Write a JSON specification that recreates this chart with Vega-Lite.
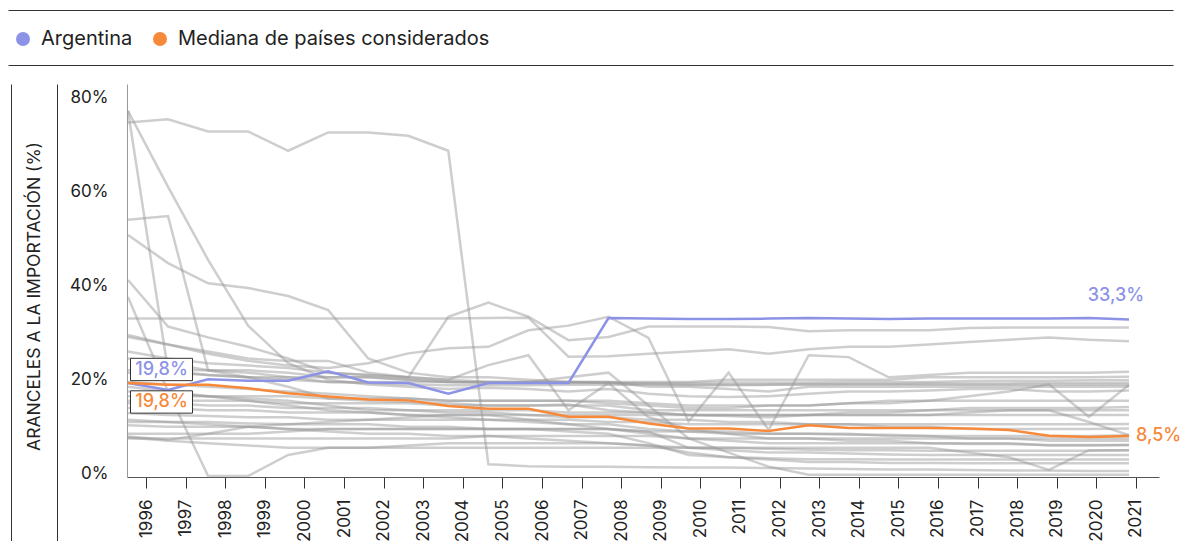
{
"$schema": "https://vega.github.io/schema/vega-lite/v6.json",
"autosize": "none",
"width": 1032,
"height": 393,
"padding": {"left": 127, "top": 84, "right": 29, "bottom": 64},
"background": "white",
"config": {
  "view": {"stroke": null},
  "font": "Inter",
  "locale": {"number": {"decimal": ",", "thousands": ".", "grouping": [3], "currency": ["", "%"]}},
  "axis": {"labelFont": "Inter", "labelFontSize": 17, "labelColor": "#222", "titleFont": "Inter", "titleFontSize": 17.5, "titleFontWeight": "normal", "titleColor": "#222", "grid": false}
},
"datasets": {"t": [
{"yr":1996,"Argentina":19.8,"Mediana":19.8,"p1":75.2,"p2":77.7,"p3":77.7,"p4":54.5,"p5":51.3,"p6":41.7,"p7":38.1,"p8":33.5,"p9":30.0,"p10":29.6,"p11":25.0,"p12":22.5,"p13":16.0,"p14":13.4,"p15":12.0,"p16":10.8,"p17":8.4,"p18":8.0,"p19":19.0,"p20":20.0,"p21":18.0,"p22":14.5,"p23":11.5,"p24":9.0,"p25":26.5,"p26":17.0,"p27":15.5,"p28":8.2,"p29":22.0},
{"yr":1997,"Argentina":18.3,"Mediana":19.4,"p1":75.9,"p2":61.5,"p3":22.4,"p4":55.3,"p5":45.3,"p6":31.8,"p7":18.0,"p8":33.5,"p9":28.0,"p10":28.0,"p11":24.0,"p12":22.5,"p13":16.0,"p14":13.0,"p15":11.5,"p16":10.5,"p17":7.7,"p18":8.0,"p19":18.0,"p20":19.5,"p21":17.5,"p22":14.5,"p23":11.5,"p24":9.0,"p25":25.0,"p26":17.0,"p27":15.5,"p28":7.5,"p29":22.0},
{"yr":1998,"Argentina":20.6,"Mediana":19.4,"p1":73.3,"p2":46.0,"p3":21.5,"p4":22.5,"p5":41.0,"p6":29.5,"p7":0.0,"p8":33.5,"p9":26.5,"p10":26.0,"p11":22.5,"p12":22.5,"p13":16.0,"p14":12.8,"p15":11.5,"p16":10.5,"p17":9.0,"p18":8.0,"p19":17.0,"p20":19.0,"p21":17.0,"p22":14.0,"p23":11.0,"p24":9.0,"p25":24.0,"p26":17.0,"p27":15.0,"p28":7.0,"p29":21.5},
{"yr":1999,"Argentina":20.3,"Mediana":18.7,"p1":73.3,"p2":32.0,"p3":21.0,"p4":21.0,"p5":40.0,"p6":27.5,"p7":0.0,"p8":33.5,"p9":25.0,"p10":24.5,"p11":22.0,"p12":22.5,"p13":16.0,"p14":12.5,"p15":11.2,"p16":10.5,"p17":10.5,"p18":8.0,"p19":16.0,"p20":18.5,"p21":16.5,"p22":14.0,"p23":10.5,"p24":9.0,"p25":23.5,"p26":17.0,"p27":15.0,"p28":6.5,"p29":21.0},
{"yr":2000,"Argentina":20.3,"Mediana":17.6,"p1":69.2,"p2":24.0,"p3":20.5,"p4":19.0,"p5":38.3,"p6":25.0,"p7":4.5,"p8":33.5,"p9":24.5,"p10":23.5,"p11":21.0,"p12":22.0,"p13":15.5,"p14":12.5,"p15":11.0,"p16":10.0,"p17":11.0,"p18":8.0,"p19":15.0,"p20":18.0,"p21":16.0,"p22":13.5,"p23":10.0,"p24":9.5,"p25":23.0,"p26":17.0,"p27":14.5,"p28":6.0,"p29":21.0},
{"yr":2001,"Argentina":22.3,"Mediana":16.9,"p1":73.1,"p2":20.5,"p3":20.0,"p4":16.5,"p5":35.3,"p6":22.0,"p7":6.0,"p8":33.5,"p9":24.5,"p10":23.0,"p11":20.0,"p12":21.0,"p13":15.5,"p14":12.0,"p15":11.0,"p16":10.0,"p17":11.5,"p18":8.0,"p19":14.0,"p20":17.5,"p21":15.0,"p22":13.5,"p23":9.5,"p24":10.0,"p25":22.0,"p26":16.5,"p27":14.5,"p28":6.0,"p29":21.0},
{"yr":2002,"Argentina":19.9,"Mediana":16.3,"p1":73.1,"p2":19.5,"p3":19.8,"p4":16.0,"p5":25.0,"p6":21.5,"p7":6.0,"p8":33.5,"p9":22.0,"p10":24.0,"p11":20.0,"p12":21.0,"p13":15.5,"p14":12.0,"p15":11.0,"p16":10.0,"p17":12.0,"p18":8.0,"p19":13.5,"p20":17.0,"p21":14.0,"p22":13.5,"p23":9.0,"p24":10.0,"p25":21.5,"p26":16.5,"p27":14.5,"p28":6.0,"p29":21.0},
{"yr":2003,"Argentina":19.8,"Mediana":16.1,"p1":72.4,"p2":19.0,"p3":19.5,"p4":15.8,"p5":22.0,"p6":21.0,"p7":6.5,"p8":33.5,"p9":21.0,"p10":26.1,"p11":20.0,"p12":20.5,"p13":15.5,"p14":12.0,"p15":10.5,"p16":10.0,"p17":12.5,"p18":8.0,"p19":13.0,"p20":16.5,"p21":14.0,"p22":13.0,"p23":9.0,"p24":10.0,"p25":21.0,"p26":16.5,"p27":14.0,"p28":6.0,"p29":20.5},
{"yr":2004,"Argentina":17.5,"Mediana":14.9,"p1":69.2,"p2":18.5,"p3":19.3,"p4":15.5,"p5":21.0,"p6":20.5,"p7":7.0,"p8":33.5,"p9":33.9,"p10":27.2,"p11":20.0,"p12":20.0,"p13":15.0,"p14":12.0,"p15":10.5,"p16":10.0,"p17":13.0,"p18":8.0,"p19":12.5,"p20":16.0,"p21":13.5,"p22":13.0,"p23":8.5,"p24":10.0,"p25":20.5,"p26":16.0,"p27":14.0,"p28":6.0,"p29":20.0},
{"yr":2005,"Argentina":19.8,"Mediana":14.3,"p1":2.5,"p2":18.8,"p3":19.3,"p4":15.0,"p5":21.0,"p6":20.0,"p7":7.0,"p8":33.6,"p9":36.9,"p10":27.5,"p11":19.8,"p12":20.0,"p13":15.0,"p14":12.0,"p15":10.0,"p16":10.0,"p17":13.0,"p18":8.5,"p19":12.0,"p20":16.0,"p21":13.5,"p22":13.0,"p23":8.5,"p24":10.0,"p25":23.6,"p26":16.0,"p27":14.0,"p28":6.0,"p29":20.0},
{"yr":2006,"Argentina":19.8,"Mediana":14.3,"p1":2.1,"p2":18.5,"p3":19.3,"p4":15.0,"p5":20.5,"p6":20.0,"p7":7.0,"p8":33.7,"p9":33.9,"p10":31.0,"p11":19.8,"p12":20.0,"p13":15.0,"p14":12.0,"p15":10.0,"p16":10.0,"p17":13.0,"p18":8.5,"p19":11.5,"p20":16.0,"p21":13.0,"p22":12.0,"p23":8.0,"p24":10.0,"p25":25.7,"p26":16.0,"p27":14.0,"p28":6.0,"p29":20.0},
{"yr":2007,"Argentina":19.8,"Mediana":12.6,"p1":2.0,"p2":18.0,"p3":19.4,"p4":15.2,"p5":20.0,"p6":20.0,"p7":7.0,"p8":25.4,"p9":28.9,"p10":32.0,"p11":19.8,"p12":20.0,"p13":15.0,"p14":12.0,"p15":10.0,"p16":10.0,"p17":13.0,"p18":8.5,"p19":11.0,"p20":16.0,"p21":12.5,"p22":11.0,"p23":7.5,"p24":9.5,"p25":14.0,"p26":16.0,"p27":13.5,"p28":6.0,"p29":21.0},
{"yr":2008,"Argentina":33.6,"Mediana":12.6,"p1":2.0,"p2":18.5,"p3":19.4,"p4":14.0,"p5":20.0,"p6":19.8,"p7":7.0,"p8":25.5,"p9":29.6,"p10":33.9,"p11":19.8,"p12":20.0,"p13":15.0,"p14":11.5,"p15":10.0,"p16":10.0,"p17":13.0,"p18":8.5,"p19":11.0,"p20":15.5,"p21":12.5,"p22":10.0,"p23":7.0,"p24":9.0,"p25":19.8,"p26":16.0,"p27":13.5,"p28":6.0,"p29":22.0},
{"yr":2009,"Argentina":33.5,"Mediana":11.2,"p1":1.9,"p2":17.5,"p3":19.4,"p4":13.5,"p5":20.0,"p6":19.6,"p7":6.5,"p8":26.0,"p9":31.8,"p10":29.4,"p11":19.8,"p12":19.0,"p13":14.0,"p14":11.5,"p15":9.5,"p16":9.0,"p17":13.0,"p18":8.5,"p19":10.0,"p20":15.0,"p21":12.0,"p22":9.5,"p23":6.5,"p24":7.0,"p25":12.5,"p26":15.5,"p27":13.5,"p28":6.0,"p29":15.0},
{"yr":2010,"Argentina":33.4,"Mediana":10.1,"p1":1.8,"p2":17.0,"p3":19.3,"p4":13.0,"p5":20.0,"p6":19.5,"p7":6.0,"p8":26.5,"p9":31.8,"p10":11.6,"p11":19.8,"p12":19.0,"p13":14.0,"p14":11.0,"p15":9.5,"p16":8.0,"p17":13.0,"p18":8.0,"p19":9.5,"p20":14.5,"p21":12.0,"p22":6.0,"p23":5.0,"p24":4.5,"p25":10.0,"p26":15.0,"p27":13.0,"p28":6.0,"p29":8.0},
{"yr":2011,"Argentina":33.4,"Mediana":10.1,"p1":1.8,"p2":16.8,"p3":19.3,"p4":12.8,"p5":20.5,"p6":19.5,"p7":6.0,"p8":27.0,"p9":31.8,"p10":22.0,"p11":19.9,"p12":18.5,"p13":14.0,"p14":11.0,"p15":9.0,"p16":7.5,"p17":13.0,"p18":8.0,"p19":9.5,"p20":14.5,"p21":11.5,"p22":5.5,"p23":4.0,"p24":4.0,"p25":9.0,"p26":15.0,"p27":13.0,"p28":6.0,"p29":5.0},
{"yr":2012,"Argentina":33.5,"Mediana":9.6,"p1":1.7,"p2":17.0,"p3":19.4,"p4":12.5,"p5":20.5,"p6":19.5,"p7":5.8,"p8":26.0,"p9":31.7,"p10":9.8,"p11":19.9,"p12":18.0,"p13":14.0,"p14":11.0,"p15":9.0,"p16":7.0,"p17":13.0,"p18":8.0,"p19":9.0,"p20":15.0,"p21":11.5,"p22":5.0,"p23":3.8,"p24":3.5,"p25":8.0,"p26":15.0,"p27":13.0,"p28":6.0,"p29":2.0},
{"yr":2013,"Argentina":33.6,"Mediana":10.8,"p1":1.6,"p2":17.5,"p3":19.4,"p4":13.0,"p5":20.5,"p6":19.6,"p7":5.6,"p8":27.0,"p9":30.8,"p10":25.7,"p11":19.9,"p12":19.0,"p13":14.0,"p14":11.0,"p15":9.0,"p16":7.0,"p17":13.0,"p18":8.0,"p19":9.0,"p20":15.0,"p21":11.0,"p22":5.0,"p23":3.6,"p24":3.0,"p25":8.0,"p26":15.0,"p27":13.0,"p28":6.0,"p29":0.3},
{"yr":2014,"Argentina":33.5,"Mediana":10.2,"p1":1.5,"p2":18.0,"p3":19.5,"p4":13.5,"p5":20.5,"p6":19.6,"p7":5.5,"p8":27.5,"p9":31.0,"p10":25.3,"p11":20.0,"p12":19.0,"p13":14.0,"p14":11.0,"p15":9.0,"p16":7.0,"p17":13.0,"p18":8.0,"p19":8.8,"p20":15.5,"p21":11.0,"p22":4.8,"p23":3.6,"p24":3.0,"p25":7.5,"p26":15.5,"p27":13.0,"p28":6.0,"p29":0.3},
{"yr":2015,"Argentina":33.4,"Mediana":10.2,"p1":1.4,"p2":18.0,"p3":19.5,"p4":13.5,"p5":20.5,"p6":19.6,"p7":5.5,"p8":27.5,"p9":31.0,"p10":21.0,"p11":20.0,"p12":19.0,"p13":14.0,"p14":11.0,"p15":8.5,"p16":7.0,"p17":13.0,"p18":8.0,"p19":8.8,"p20":15.5,"p21":10.5,"p22":4.6,"p23":3.5,"p24":2.8,"p25":7.5,"p26":16.0,"p27":13.0,"p28":6.0,"p29":0.3},
{"yr":2016,"Argentina":33.5,"Mediana":10.2,"p1":1.4,"p2":18.2,"p3":19.4,"p4":14.0,"p5":21.0,"p6":19.7,"p7":5.4,"p8":28.0,"p9":31.0,"p10":21.5,"p11":20.0,"p12":19.0,"p13":14.0,"p14":11.0,"p15":8.5,"p16":7.0,"p17":13.0,"p18":8.0,"p19":8.5,"p20":16.0,"p21":10.5,"p22":4.5,"p23":3.5,"p24":2.8,"p25":7.0,"p26":16.0,"p27":13.0,"p28":6.0,"p29":0.3},
{"yr":2017,"Argentina":33.5,"Mediana":10.1,"p1":1.3,"p2":18.5,"p3":19.4,"p4":14.5,"p5":21.0,"p6":19.7,"p7":5.4,"p8":28.5,"p9":31.5,"p10":22.0,"p11":20.2,"p12":19.0,"p13":14.0,"p14":11.0,"p15":8.0,"p16":6.8,"p17":13.0,"p18":8.0,"p19":8.5,"p20":16.0,"p21":10.0,"p22":4.5,"p23":3.5,"p24":2.7,"p25":7.0,"p26":17.0,"p27":13.5,"p28":5.0,"p29":0.3},
{"yr":2018,"Argentina":33.5,"Mediana":9.8,"p1":1.2,"p2":18.5,"p3":19.4,"p4":14.5,"p5":21.0,"p6":19.7,"p7":5.4,"p8":29.0,"p9":31.6,"p10":22.0,"p11":20.3,"p12":19.0,"p13":14.0,"p14":11.0,"p15":8.0,"p16":6.8,"p17":13.0,"p18":8.0,"p19":8.5,"p20":16.0,"p21":10.0,"p22":4.5,"p23":3.5,"p24":2.7,"p25":7.0,"p26":18.0,"p27":14.0,"p28":4.0,"p29":0.3},
{"yr":2019,"Argentina":33.5,"Mediana":8.6,"p1":1.2,"p2":18.0,"p3":19.4,"p4":14.5,"p5":21.0,"p6":19.8,"p7":5.4,"p8":29.5,"p9":31.6,"p10":22.0,"p11":20.3,"p12":19.0,"p13":14.0,"p14":11.0,"p15":7.5,"p16":6.6,"p17":13.0,"p18":8.0,"p19":8.5,"p20":16.0,"p21":10.0,"p22":4.5,"p23":3.5,"p24":2.7,"p25":6.5,"p26":19.5,"p27":14.0,"p28":1.3,"p29":0.3},
{"yr":2020,"Argentina":33.6,"Mediana":8.3,"p1":1.1,"p2":18.0,"p3":19.4,"p4":14.5,"p5":21.0,"p6":19.8,"p7":5.4,"p8":29.0,"p9":31.6,"p10":22.0,"p11":20.4,"p12":19.0,"p13":14.0,"p14":11.0,"p15":7.5,"p16":6.6,"p17":13.0,"p18":8.0,"p19":8.5,"p20":16.0,"p21":10.0,"p22":4.5,"p23":3.5,"p24":2.7,"p25":6.5,"p26":12.6,"p27":11.5,"p28":5.5,"p29":0.3},
{"yr":2021,"Argentina":33.3,"Mediana":8.5,"p1":1.1,"p2":18.2,"p3":19.4,"p4":14.7,"p5":21.1,"p6":19.8,"p7":5.5,"p8":28.7,"p9":31.6,"p10":22.2,"p11":20.4,"p12":19.0,"p13":14.0,"p14":11.1,"p15":7.5,"p16":6.6,"p17":13.0,"p18":8.0,"p19":8.7,"p20":16.0,"p21":10.1,"p22":4.5,"p23":3.5,"p24":2.7,"p25":6.6,"p26":19.4,"p27":8.7,"p28":5.5,"p29":0.3}
]},
"layer": [
  {
    "data": {"name": "t"},
    "encoding": {
      "x": {"field": "yr", "type": "quantitative", "scale": {"domain": [1995.975, 2021.749], "nice": false, "zero": false}, "axis": null},
      "y": {"field": "v", "type": "quantitative", "scale": {"domain": [-0.2, 83.4], "nice": false, "zero": false},
        "axis": {"values": [0, 20, 40, 60, 80], "format": "$.0f", "domain": true, "domainColor": "#999", "domainWidth": 1, "ticks": false, "tickSize": 0, "labelPadding": 19, "labelOffset": -2.5, "title": "ARANCELES A LA IMPORTACIÓN (%)", "titleX": -93, "titleY": 212, "titleAngle": -90, "titleAlign": "center", "titleBaseline": "middle"}}
    },
    "layer": [
      {"transform": [{"fold": ["p1","p2","p3","p4","p5","p6","p7","p8","p9","p10","p11","p12","p13","p14","p15","p16","p17","p18","p19","p20","p21","p22","p23","p24","p25","p26","p27","p28","p29"], "as": ["pais", "v"]}],
       "mark": {"type": "line", "stroke": "#999", "strokeOpacity": 0.48, "strokeWidth": 2.5},
       "encoding": {"detail": {"field": "pais", "type": "nominal"}}},
      {"transform": [{"fold": ["Argentina"], "as": ["serie", "v"]}],
       "mark": {"type": "line", "strokeWidth": 2.5},
       "encoding": {"color": {"field": "serie", "type": "nominal",
         "scale": {"domain": ["Argentina", "Mediana"], "range": ["#8c93e6", "#f7893b"]},
         "legend": {"title": null, "orient": "none", "legendX": -114, "legendY": -55, "direction": "horizontal", "padding": 0,
           "labelFont": "Inter", "labelFontSize": 20, "labelColor": "#222", "labelOffset": 8, "columnPadding": 17, "labelLimit": 500,
           "symbolType": "circle", "symbolSize": 196, "symbolStrokeWidth": 0, "symbolOpacity": 1,
           "labelExpr": "datum.label == 'Mediana' ? 'Mediana de países considerados' : datum.label",
           "encode": {"symbols": {"update": {"fill": {"scale": "color", "field": "value"}, "stroke": {"value": "transparent"}}}}}}}},
      {"transform": [{"fold": ["Mediana"], "as": ["serie", "v"]}],
       "mark": {"type": "line", "strokeWidth": 2.5},
       "encoding": {"color": {"field": "serie", "type": "nominal"}}},
      {"transform": [{"filter": "datum.yr == 1996"}, {"fold": ["Argentina"], "as": ["serie", "v"]}],
       "mark": {"type": "point", "shape": "M-1,-0.36L1,-0.36L1,0.36L-1,0.36Z", "size": 3844, "filled": true, "fill": "white", "stroke": "#333", "strokeWidth": 1, "opacity": 1, "xOffset": 33.5, "yOffset": -13.5}},
      {"transform": [{"filter": "datum.yr == 1996"}, {"fold": ["Argentina"], "as": ["serie", "v"]}],
       "mark": {"type": "text", "fontSize": 18, "fontWeight": 500, "color": "#8c93e6", "align": "center", "baseline": "middle", "xOffset": 33.5, "yOffset": -13},
       "encoding": {"text": {"field": "v", "type": "quantitative", "format": "$.1f"}}},
      {"transform": [{"filter": "datum.yr == 1996"}, {"fold": ["Mediana"], "as": ["serie", "v"]}],
       "mark": {"type": "point", "shape": "M-1,-0.36L1,-0.36L1,0.36L-1,0.36Z", "size": 3844, "filled": true, "fill": "white", "stroke": "#333", "strokeWidth": 1, "opacity": 1, "xOffset": 33.5, "yOffset": 19}},
      {"transform": [{"filter": "datum.yr == 1996"}, {"fold": ["Mediana"], "as": ["serie", "v"]}],
       "mark": {"type": "text", "fontSize": 18, "fontWeight": 500, "color": "#f7893b", "align": "center", "baseline": "middle", "xOffset": 33.5, "yOffset": 19.5},
       "encoding": {"text": {"field": "v", "type": "quantitative", "format": "$.1f"}}},
      {"transform": [{"filter": "datum.yr == 2021"}, {"fold": ["Argentina"], "as": ["serie", "v"]}],
       "mark": {"type": "text", "fontSize": 18, "fontWeight": 500, "color": "#8c93e6", "align": "center", "baseline": "middle", "xOffset": -13, "yOffset": -24},
       "encoding": {"text": {"field": "v", "type": "quantitative", "format": "$.1f"}}},
      {"transform": [{"filter": "datum.yr == 2021"}, {"fold": ["Mediana"], "as": ["serie", "v"]}],
       "mark": {"type": "text", "fontSize": 18, "fontWeight": 500, "color": "#f7893b", "align": "left", "baseline": "middle", "xOffset": 7, "yOffset": 0},
       "encoding": {"text": {"field": "v", "type": "quantitative", "format": "$.1f"}}}
    ]
  },
  {
    "data": {"name": "t"},
    "mark": {"type": "point", "opacity": 0},
    "encoding": {"x": {"field": "yr", "type": "quantitative", "scale": {"domain": [1995.52, 2021.581], "nice": false, "zero": false},
      "axis": {"orient": "bottom", "values": [1996,1997,1998,1999,2000,2001,2002,2003,2004,2005,2006,2007,2008,2009,2010,2011,2012,2013,2014,2015,2016,2017,2018,2019,2020,2021], "format": "d", "labelAngle": -90, "labelAlign": "right", "labelBaseline": "middle", "tickSize": 11, "tickColor": "#333", "domainColor": "#555", "labelPadding": 11, "title": null, "labelFlush": false, "labelOverlap": false}}}
  },
  {
    "data": {"name": "t"},
    "mark": {"type": "point", "opacity": 0},
    "encoding": {"x": {"field": "yr", "type": "quantitative", "scale": {"range": [-119, 1046], "nice": false, "zero": false},
      "axis": {"orient": "top", "offset": 19, "ticks": false, "labels": false, "title": null, "domainColor": "#333", "domainWidth": 1}}}
  },
  {
    "data": {"name": "t"},
    "mark": {"type": "point", "opacity": 0},
    "encoding": {"x": {"field": "yr", "type": "quantitative", "scale": {"range": [-119, 1046], "nice": false, "zero": false},
      "axis": {"orient": "top", "offset": 74, "ticks": false, "labels": false, "title": null, "domainColor": "#333", "domainWidth": 1}}}
  },
  {
    "data": {"name": "t"},
    "mark": {"type": "point", "opacity": 0},
    "encoding": {"y": {"field": "yr", "type": "quantitative", "scale": {"range": [457, 0], "nice": false, "zero": false},
      "axis": {"orient": "left", "offset": 70, "ticks": false, "labels": false, "title": null, "domainColor": "#333", "domainWidth": 1}}}
  },
  {
    "data": {"name": "t"},
    "mark": {"type": "point", "opacity": 0},
    "encoding": {"y": {"field": "yr", "type": "quantitative", "scale": {"range": [457, 0], "nice": false, "zero": false},
      "axis": {"orient": "left", "offset": 116, "ticks": false, "labels": false, "title": null, "domainColor": "#333", "domainWidth": 1}}}
  }
],
"resolve": {"scale": {"x": "independent", "y": "independent"}, "axis": {"x": "independent", "y": "independent"}}
}
